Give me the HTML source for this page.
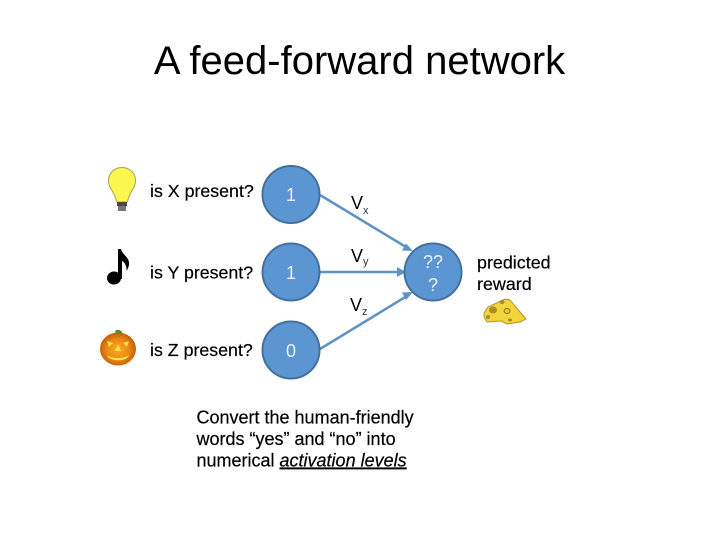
<!DOCTYPE html>
<html>
<head>
<meta charset="utf-8">
<style>
html,body{margin:0;padding:0;background:#fff}
svg{display:block}
text{font-family:"Liberation Sans",sans-serif;fill:#000}
.b text{stroke:#000;stroke-width:.2px}
</style>
</head>
<body>
<svg xmlns="http://www.w3.org/2000/svg" width="720" height="540" viewBox="0 0 720 540">
<defs>
<radialGradient id="pk" cx="50%" cy="52%" r="55%">
<stop offset="0" stop-color="#f8b020"/>
<stop offset="0.6" stop-color="#ea8412"/>
<stop offset="1" stop-color="#b9560c"/>
</radialGradient>
</defs>
<rect width="720" height="540" fill="#fff"/>
<text x="359.500" y="74" font-size="40" text-anchor="middle">A feed-forward network</text>

<!-- connectors -->
<g stroke="#5f93c4" stroke-width="2.500" fill="none">
<line x1="320" y1="195" x2="406" y2="247"/>
<line x1="320" y1="272" x2="400" y2="272"/>
<line x1="320" y1="349" x2="407" y2="296"/>
</g>
<g fill="#5f93c4">
<polygon points="413,251 402,250.500 406,243.500"/>
<polygon points="406,272 397,267 397,277"/>
<polygon points="413,292 406,300 402,292.500"/>
</g>

<!-- nodes -->
<g fill="#5b96d3" stroke="#44709f" stroke-width="2">
<circle cx="291" cy="194.500" r="28.500"/>
<circle cx="291" cy="272" r="28.500"/>
<circle cx="291" cy="350" r="28.500"/>
<circle cx="433" cy="272" r="28.500"/>
</g>
<g font-size="18" text-anchor="middle">
<text x="291" y="201" style="fill:#e8f0f8">1</text>
<text x="291" y="279" style="fill:#e8f0f8">1</text>
<text x="291" y="357" style="fill:#e8f0f8">0</text>
<text x="433" y="268" style="fill:#e8f0f8">??</text>
<text x="433" y="291" style="fill:#e8f0f8">?</text>
</g>

<!-- left labels -->
<g font-size="17.800" class="b">
<text x="150" y="197">is X present?</text>
<text x="150" y="278.500">is Y present?</text>
<text x="150" y="356">is Z present?</text>
</g>

<!-- weights -->
<text x="351" y="209" font-size="18">V</text><text x="363" y="214" font-size="11" style="fill:#333">x</text>
<text x="351" y="262" font-size="18">V</text><text x="363" y="265" font-size="11" style="fill:#333">y</text>
<text x="350" y="311" font-size="18">V</text><text x="362" y="315" font-size="11" style="fill:#333">z</text>

<!-- right label -->
<g font-size="17.900" class="b">
<text x="477" y="268.500">predicted</text>
<text x="477" y="290">reward</text>
</g>

<!-- caption -->
<g font-size="18" class="b">
<text x="196.500" y="423.500">Convert the human-friendly</text>
<text x="196.500" y="445">words “yes” and “no” into</text>
<text x="196.500" y="466.500">numerical <tspan font-style="italic" text-decoration="underline">activation levels</tspan></text>
</g>

<!-- bulb -->
<path d="M122 167.500c-8 0-13.500 6-13.500 13 0 8 6.500 12 8 21.500h11c1.500-9.500 8-13.500 8-21.500 0-7-5.500-13-13.500-13z" fill="#fdf64e" stroke="#a8a060" stroke-width="1"/>
<rect x="117" y="202" width="10" height="4" fill="#4a4a38"/>
<rect x="118" y="206" width="8" height="5" fill="#777"/>

<!-- note -->
<ellipse cx="114" cy="278" rx="7" ry="6.500" fill="#000"/>
<path d="M118 279V249h3c1 6 9 8 8 16-.4 2-1.200 4-2.500 6 .5-5-2-9-4.500-10v18z" fill="#000"/>

<!-- pumpkin -->
<ellipse cx="118" cy="349" rx="18" ry="16.500" fill="url(#pk)"/>
<path d="M115 334l.5-4h4l3 2-2 2z" fill="#5f8a25"/>
<path d="M107 341l6 2-4 4zM129 341l-6 2 4 4zM118 344l3 7h-6zM107 355c6 4 16 4 22 0-1 7-21 7-22 0z" fill="#f8e050"/>

<!-- cheese -->
<path d="M484 313l4-6 17-8 5 1 16 19-6 3-13 2-6-3-14 1-3-5z" fill="#f2d53c" stroke="#b89428" stroke-width="1"/>
<ellipse cx="493" cy="310" rx="4" ry="3.500" fill="#a98a30"/>
<ellipse cx="507" cy="311" rx="3" ry="2.500" fill="#e8c838" stroke="#8a7020"/>
<ellipse cx="502" cy="302" rx="2.500" ry="2" fill="#a98a30"/>
<ellipse cx="488" cy="317" rx="2" ry="2" fill="#a98a30"/>
<ellipse cx="510" cy="320" rx="2" ry="1.500" fill="#a98a30"/>
</svg>
</body>
</html>
